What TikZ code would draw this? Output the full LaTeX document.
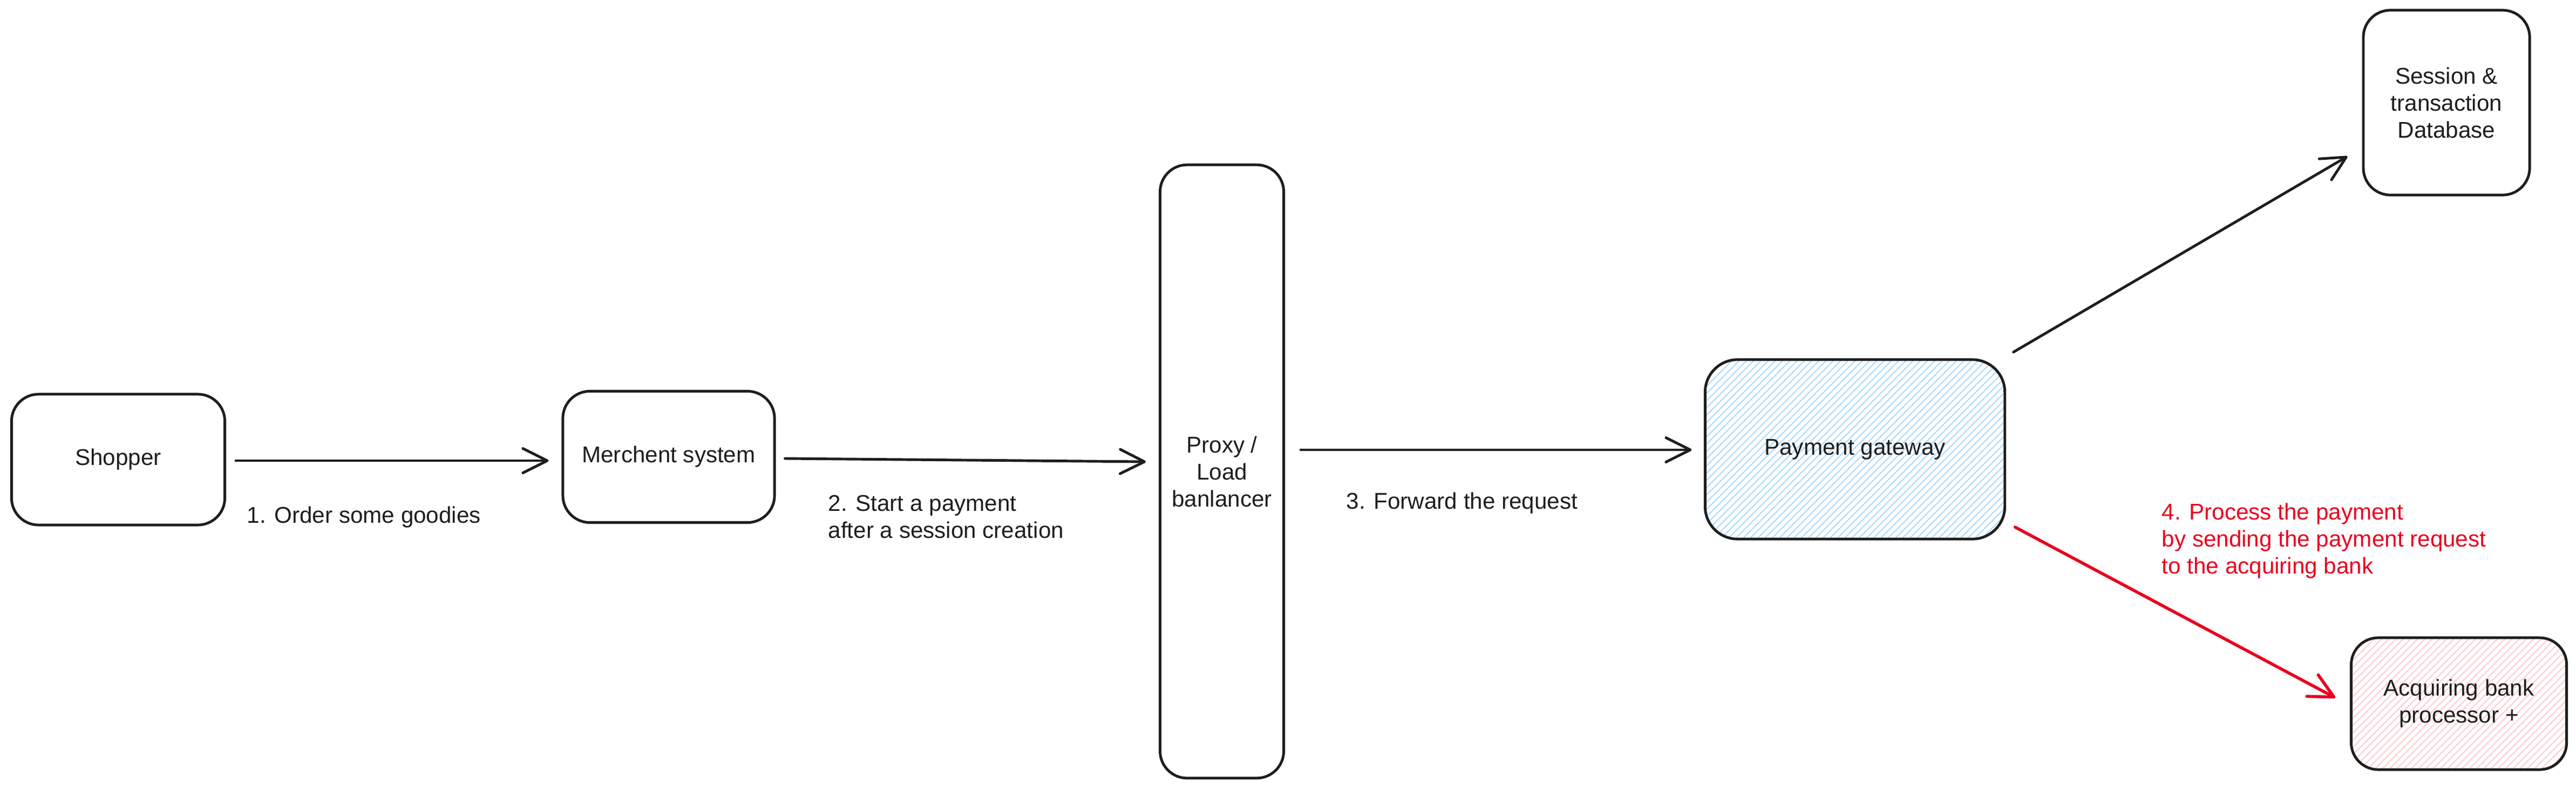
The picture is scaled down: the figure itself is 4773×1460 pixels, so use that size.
\documentclass[tikz,border=0pt]{standalone}
\usepackage{fontspec}
\setmainfont{Liberation Sans}
\usepackage{tikz}
\usetikzlibrary{arrows.meta,calc,patterns.meta,positioning}
\definecolor{inkGray}{HTML}{1E1E1E}
\definecolor{hatchBlue}{HTML}{A5D8FF}
\definecolor{hatchRed}{HTML}{FFC9C9}
\definecolor{stepRed}{HTML}{E8001F}

\tikzset{
  box/.style={draw=inkGray, line width=1.4pt, rounded corners=0.5cm, align=center,
    inner sep=0pt, text=inkGray, font=\fontsize{12}{14.2}\selectfont},
  blueHatch/.style={pattern={Lines[angle=45,distance=2.7pt,line width=0.55pt]}, pattern color=hatchBlue},
  redHatch/.style={pattern={Lines[angle=45,distance=2.7pt,line width=0.55pt]}, pattern color=hatchRed},
  flow/.style={draw=inkGray, line width=1.4pt, line cap=round,
    -{Straight Barb[round,length=0.45cm,width=0.45cm]}},
  stepText/.style={inner sep=0pt, align=left, text=inkGray, font=\fontsize{12}{14.2}\selectfont}
}

\begin{document}
\begin{tikzpicture}[x=0.01cm,y=-0.01cm]

  \useasboundingbox (0,0) rectangle (4773,1460);

  % draw the boxes
  \node[box, minimum width=3.95cm, minimum height=2.42cm] (shopper) at (219,851) {Shopper};
  \node[box, minimum width=3.92cm, minimum height=2.43cm] (merchant) at (1239,846) {Merchent system};
  \node[box, minimum width=2.29cm, minimum height=11.35cm] (proxy) at (2264,873) {Proxy /\\Load\\banlancer};
  \node[box, blueHatch, rounded corners=0.6cm, minimum width=5.55cm, minimum height=3.32cm] (gateway) at (3437,832) {Payment gateway};
  \node[box, minimum width=3.08cm, minimum height=3.42cm] (db) at (4533,190) {Session \&\\transaction\\Database};
  \node[box, redHatch, minimum width=3.99cm, minimum height=2.44cm] (bank) at (4556,1303) {Acquiring bank\\processor +};

  % draw the black connectors
  \foreach \from/\fx/\fy/\to/\tx/\ty in {
      shopper.east/18/2/merchant.west/-24/7,
      merchant.east/17/3/proxy.west/-24/-18,
      proxy.east/29/-40/gateway.west/-24/1,
      gateway.north east/15/-13/db.south west/-27/-74}
    \draw[flow] ($(\from)+(\fx,\fy)$) -- ($(\to)+(\tx,\ty)$);

  % the red one goes to the bank
  \draw[flow, draw=stepRed, line width=1.6pt] ($(gateway.south east)+(18,-23)$) -- ($(bank.west)+(-27,-11)$);

  % step labels
  \node[stepText, anchor=base west] (order) at (457,968) {1. Order some goodies};
  \node[stepText, anchor=north west] (start) at (1534,916) {2. Start a payment\\after a session creation};
  \node[stepText, anchor=base west] (forward) at (2494,942) {3. Forward the request};
  \node[stepText, anchor=north west, text=stepRed] (process) at (4005,931) {4. Process the payment\\by sending the payment request\\to the acquiring bank};

\end{tikzpicture}
\end{document}
